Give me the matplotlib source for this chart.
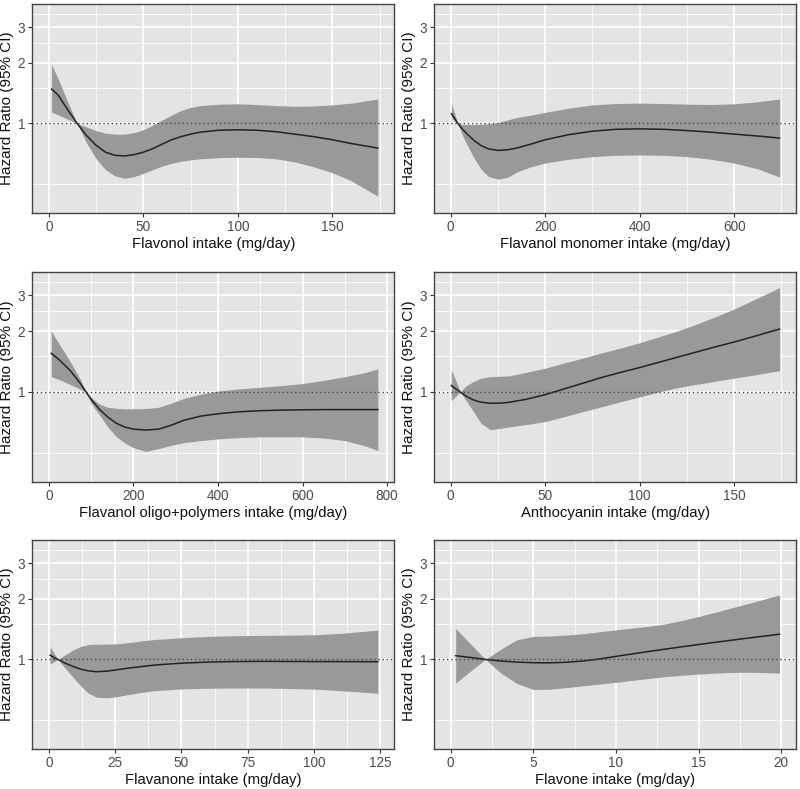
import numpy as np
import matplotlib
matplotlib.use("Agg")
import matplotlib.pyplot as plt
from matplotlib.ticker import MultipleLocator, FixedLocator, FixedFormatter, NullFormatter

plt.rcParams['font.family'] = ['Liberation Sans', 'DejaVu Sans']

# Flavonol
x1 = [1.5, 5, 10, 15, 20, 25, 30, 35, 40, 45, 50, 55, 60, 65, 70, 75, 80, 90,
      100, 110, 120, 130, 140, 150, 160, 174]
hr1 = [1.48, 1.38, 1.17, 1.0, 0.87, 0.78, 0.72, 0.695, 0.69, 0.70, 0.72, 0.75,
       0.79, 0.83, 0.86, 0.885, 0.905, 0.925, 0.93, 0.925, 0.91, 0.885, 0.86,
       0.83, 0.795, 0.755]
hi1 = [1.95, 1.66, 1.28, 1.0, 0.96, 0.92, 0.895, 0.885, 0.885, 0.90, 0.93, 0.98,
       1.04, 1.10, 1.16, 1.20, 1.225, 1.245, 1.25, 1.24, 1.225, 1.215, 1.22,
       1.235, 1.26, 1.32]
lo1 = [1.137, 1.10, 1.05, 1.0, 0.80, 0.67, 0.59, 0.55, 0.535, 0.545, 0.565,
       0.59, 0.615, 0.635, 0.65, 0.66, 0.668, 0.677, 0.68, 0.678, 0.668, 0.645,
       0.61, 0.57, 0.52, 0.436]

# Flavanol monomer
x2 = [1.5, 8, 15, 25, 35, 50, 65, 80, 100, 120, 140, 170, 200, 250, 300, 350,
      400, 450, 500, 550, 600, 650, 696]
hr2 = [1.116, 1.06, 1.0, 0.935, 0.885, 0.82, 0.775, 0.748, 0.735, 0.74, 0.755,
       0.79, 0.83, 0.88, 0.915, 0.935, 0.94, 0.935, 0.922, 0.905, 0.885, 0.866,
       0.846]
hi2 = [1.25, 1.12, 1.0, 0.99, 0.987, 0.987, 0.99, 0.995, 1.01, 1.04, 1.07, 1.10,
       1.135, 1.19, 1.235, 1.255, 1.26, 1.255, 1.245, 1.24, 1.25, 1.28, 1.32]
lo2 = [1.06, 1.03, 1.0, 0.87, 0.78, 0.67, 0.59, 0.545, 0.53, 0.54, 0.575, 0.61,
       0.637, 0.665, 0.685, 0.695, 0.698, 0.695, 0.685, 0.665, 0.637, 0.595,
       0.543]

# Flavanol oligo+polymers
x3 = [6, 25, 50, 75, 88, 100, 120, 140, 160, 180, 200, 230, 260, 290, 320, 360,
      400, 450, 500, 550, 600, 650, 700, 750, 778]
hr3 = [1.552, 1.44, 1.28, 1.10, 1.0, 0.92, 0.82, 0.75, 0.70, 0.67, 0.655, 0.648,
       0.655, 0.685, 0.725, 0.76, 0.78, 0.798, 0.808, 0.813, 0.816, 0.818,
       0.818, 0.818, 0.818]
hi3 = [2.0, 1.72, 1.42, 1.15, 1.0, 0.94, 0.87, 0.84, 0.83, 0.825, 0.825, 0.828,
       0.84, 0.88, 0.93, 0.975, 1.01, 1.035, 1.055, 1.075, 1.10, 1.14, 1.19,
       1.25, 1.30]
lo3 = [1.19, 1.15, 1.09, 1.03, 1.0, 0.88, 0.77, 0.67, 0.60, 0.56, 0.53, 0.508,
       0.525, 0.545, 0.562, 0.575, 0.586, 0.595, 0.60, 0.60, 0.60, 0.592, 0.575,
       0.54, 0.513]

# Anthocyanin
x4 = [0.3, 3, 5, 8, 12, 16, 21, 26, 31, 40, 50, 60, 70, 80, 90, 100, 110, 120,
      130, 140, 150, 160, 174]
hr4 = [1.075, 1.03, 1.0, 0.955, 0.913, 0.89, 0.879, 0.88, 0.889, 0.92, 0.97,
       1.035, 1.105, 1.18, 1.25, 1.32, 1.40, 1.485, 1.575, 1.67, 1.765, 1.875, 2.046]
hi4 = [1.284, 1.12, 1.0, 1.07, 1.125, 1.17, 1.19, 1.195, 1.2, 1.25, 1.31, 1.39,
       1.47, 1.56, 1.65, 1.75, 1.87, 2.0, 2.16, 2.35, 2.57, 2.84, 3.28]
lo4 = [0.906, 0.96, 1.0, 0.91, 0.80, 0.70, 0.65, 0.66, 0.672, 0.69, 0.714, 0.755,
       0.80, 0.845, 0.895, 0.945, 1.0, 1.05, 1.09, 1.13, 1.17, 1.21, 1.274]

# Flavanone
x5 = [0.5, 2, 3.5, 6, 9, 12, 15, 18, 22, 26, 30, 35, 40, 50, 60, 70, 80, 90, 100,
      110, 124]
hr5 = [1.05, 1.02, 1.0, 0.96, 0.925, 0.895, 0.877, 0.869, 0.875, 0.89, 0.905,
       0.922, 0.938, 0.958, 0.97, 0.976, 0.978, 0.977, 0.976, 0.975, 0.974]
hi5 = [1.16, 1.07, 1.0, 1.05, 1.11, 1.16, 1.185, 1.19, 1.19, 1.195, 1.21, 1.235,
       1.255, 1.28, 1.30, 1.31, 1.315, 1.318, 1.325, 1.345, 1.396]
lo5 = [0.95, 0.975, 1.0, 0.91, 0.82, 0.74, 0.68, 0.65, 0.645, 0.655, 0.67, 0.687,
       0.70, 0.714, 0.72, 0.722, 0.722, 0.718, 0.713, 0.70, 0.68]

# Flavone
x6 = [0.3, 1, 2.1, 3, 4, 5, 6, 7, 8, 9, 10, 11, 12, 13, 14, 15, 16, 17, 18, 19,
      19.9]
hr6 = [1.043, 1.027, 1.0, 0.982, 0.97, 0.963, 0.962, 0.968, 0.982, 1.005, 1.035,
       1.065, 1.095, 1.125, 1.155, 1.185, 1.215, 1.245, 1.275, 1.305, 1.333]
hi6 = [1.422, 1.24, 1.0, 1.12, 1.25, 1.30, 1.305, 1.32, 1.34, 1.37, 1.40, 1.43,
       1.46, 1.50, 1.56, 1.63, 1.71, 1.80, 1.89, 1.99, 2.085]
lo6 = [0.764, 0.85, 1.0, 0.86, 0.76, 0.71, 0.712, 0.725, 0.74, 0.755, 0.77,
       0.788, 0.805, 0.822, 0.835, 0.846, 0.855, 0.862, 0.864, 0.86, 0.856]

xlabels = ["Flavonol intake (mg/day)", "Flavanol monomer intake (mg/day)",
           "Flavanol oligo+polymers intake (mg/day)", "Anthocyanin intake (mg/day)",
           "Flavanone intake (mg/day)", "Flavone intake (mg/day)"]
xsteps = [50, 200, 200, 50, 25, 5]

panels = [(x1, hr1, lo1, hi1), (x2, hr2, lo2, hi2), (x3, hr3, lo3, hi3),
          (x4, hr4, lo4, hi4), (x5, hr5, lo5, hi5), (x6, hr6, lo6, hi6)]

# panel boxes in pixels: left, right, top, bottom
cols = [(32.3, 394.3), (434.3, 796.0)]
rows = [(4, 213.3), (272.3, 482), (540, 749.3)]

W, H = 800, 789
fig = plt.figure(figsize=(W / 100, H / 100), dpi=100)

ymin, ymax = 0.4, 3.5
d = np.log(ymax) - np.log(ymin)
ylo = np.exp(np.log(ymin) - 0.05 * d)
yhi = np.exp(np.log(ymax) + 0.05 * d)

for i, (x, hr, lo, hi) in enumerate(panels):
    l, r = cols[i % 2]
    t, b = rows[i // 2]
    ax = fig.add_axes([l / W, 1 - b / H, (r - l) / W, (b - t) / H])
    ax.set_facecolor('#E4E4E4')
    ax.set_yscale('log')

    ax.fill_between(x, lo, hi, color='#999999', lw=0, zorder=2)
    ax.plot(x, hr, color='#222222', lw=1.1, zorder=3, solid_joinstyle='round')
    ax.axhline(1, color='#444444', lw=1.0, ls=(0, (1, 2)), zorder=4)

    pad = 0.05 * max(x)
    ax.set_xlim(-pad, max(x) + pad)
    ax.set_ylim(ylo, yhi)

    ax.xaxis.set_major_locator(MultipleLocator(xsteps[i]))
    ax.xaxis.set_minor_locator(MultipleLocator(xsteps[i] / 2))
    ax.yaxis.set_major_locator(FixedLocator([1, 2, 3]))
    ax.yaxis.set_minor_locator(FixedLocator([0.5, 1.5, 2.5, 3.5]))
    ax.yaxis.set_major_formatter(FixedFormatter(['1', '2', '3']))
    ax.yaxis.set_minor_formatter(NullFormatter())

    ax.grid(which='major', color='white', lw=1.2, zorder=1)
    ax.grid(which='minor', color='white', lw=0.6, zorder=1)
    ax.set_axisbelow(True)

    ax.tick_params(which='major', length=3, width=0.8, color='#333333',
                   labelcolor='#4D4D4D', labelsize=9.8, pad=2)
    ax.tick_params(which='minor', length=0)
    for s in ax.spines.values():
        s.set_color('#444444')
        s.set_linewidth(1.0)

    ax.set_xlabel(xlabels[i], fontsize=10.7, color='#111111', labelpad=2)
    ax.set_ylabel("Hazard Ratio (95% CI)", fontsize=11, color='#111111', labelpad=3)

fig.savefig("out.png", dpi=100)
